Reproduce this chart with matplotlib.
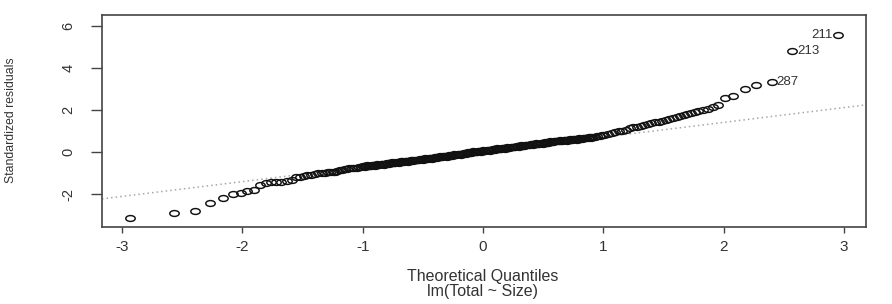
import numpy as np
import matplotlib
matplotlib.use("Agg")
import matplotlib.pyplot as plt
from matplotlib.path import Path
from matplotlib.transforms import Affine2D

# sorted standardized residuals vs theoretical quantiles
theo_q = [
    -2.93, -2.57, -2.39, -2.27, -2.16, -2.08, -2.01, -1.96, -1.90, -1.85,
    -1.80, -1.76, -1.72, -1.68, -1.63, -1.59, -1.55,
    -1.52, -1.49, -1.46, -1.43, -1.40, -1.37, -1.34, -1.31,
    -1.29, -1.27, -1.25, -1.23, -1.21, -1.19, -1.17, -1.15, -1.13, -1.11,
    -1.09, -1.07, -1.05, -1.03, -1.01, -0.99, -0.97, -0.95, -0.93, -0.91,
    -0.89, -0.87, -0.85, -0.83, -0.81, -0.79, -0.77, -0.75, -0.73, -0.71,
    -0.69, -0.67, -0.65, -0.63, -0.61, -0.59, -0.57, -0.55, -0.53, -0.51,
    -0.49, -0.47, -0.45, -0.43, -0.41, -0.39, -0.37, -0.35, -0.33, -0.31,
    -0.29, -0.27, -0.25, -0.23, -0.21, -0.19, -0.17, -0.15, -0.13, -0.11,
    -0.09, -0.07, -0.05, -0.03, -0.01, 0.01, 0.03, 0.05, 0.07, 0.09,
    0.11, 0.13, 0.15, 0.17, 0.19, 0.21, 0.23, 0.25, 0.27, 0.29,
    0.31, 0.33, 0.35, 0.37, 0.39, 0.41, 0.43, 0.45, 0.47, 0.49,
    0.51, 0.53, 0.55, 0.57, 0.59, 0.61, 0.63, 0.65, 0.67, 0.69,
    0.71, 0.73, 0.75, 0.77, 0.79, 0.81, 0.83, 0.85, 0.87, 0.89,
    0.91, 0.93, 0.95, 0.97, 0.99, 1.01,
    1.04, 1.07, 1.10, 1.13, 1.16, 1.19, 1.22, 1.25, 1.28, 1.31,
    1.34, 1.37, 1.40, 1.43, 1.46, 1.49, 1.52, 1.55, 1.58, 1.61,
    1.64, 1.67, 1.70, 1.73, 1.76, 1.79, 1.83, 1.87, 1.91, 1.95,
    2.01, 2.08, 2.18, 2.27, 2.40, 2.57, 2.95,
    # the crowded middle of the band
    -1.00, -0.98, -0.96, -0.94, -0.92, -0.90, -0.88, -0.86, -0.84, -0.82,
    -0.80, -0.78, -0.76, -0.74, -0.72, -0.70, -0.68, -0.66, -0.64, -0.62,
    -0.60, -0.58, -0.56, -0.54, -0.52, -0.50, -0.48, -0.46, -0.44, -0.42,
    -0.40, -0.38, -0.36, -0.34, -0.32, -0.30, -0.28, -0.26, -0.24, -0.22,
    -0.20, -0.18, -0.16, -0.14, -0.12, -0.10, -0.08, -0.06, -0.04, -0.02,
    0.00, 0.02, 0.04, 0.06, 0.08, 0.10, 0.12, 0.14, 0.16, 0.18,
    0.20, 0.22, 0.24, 0.26, 0.28, 0.30, 0.32, 0.34, 0.36, 0.38,
    0.40, 0.42, 0.44, 0.46, 0.48, 0.50, 0.52, 0.54, 0.56, 0.58,
    0.60, 0.62, 0.64, 0.66, 0.68, 0.70, 0.72, 0.74, 0.76, 0.78,
    0.80, 0.82, 0.84, 0.86, 0.88, 0.90,
]
std_resid = [
    -3.16, -2.89, -2.80, -2.44, -2.21, -2.00, -1.97, -1.85, -1.83, -1.57,
    -1.46, -1.41, -1.41, -1.41, -1.38, -1.33, -1.21,
    -1.17, -1.14, -1.11, -1.08, -1.05, -1.02, -1.00, -0.99,
    -0.97, -0.96, -0.95, -0.93, -0.90, -0.88, -0.85, -0.83, -0.80, -0.78,
    -0.77, -0.75, -0.74, -0.72, -0.71, -0.69, -0.67, -0.66, -0.65, -0.63,
    -0.62, -0.60, -0.59, -0.57, -0.56, -0.54, -0.53, -0.51, -0.50, -0.48,
    -0.46, -0.45, -0.44, -0.43, -0.42, -0.40, -0.39, -0.38, -0.36, -0.35,
    -0.33, -0.32, -0.30, -0.29, -0.27, -0.26, -0.24, -0.23, -0.21, -0.20,
    -0.18, -0.17, -0.15, -0.13, -0.11, -0.10, -0.08, -0.06, -0.04, -0.03,
    -0.01, 0.01, 0.02, 0.04, 0.05, 0.06, 0.08, 0.09, 0.11, 0.12,
    0.14, 0.15, 0.16, 0.18, 0.19, 0.21, 0.22, 0.24, 0.25, 0.27,
    0.28, 0.30, 0.31, 0.33, 0.34, 0.36, 0.37, 0.39, 0.40, 0.42,
    0.44, 0.45, 0.47, 0.49, 0.51, 0.52, 0.53, 0.54, 0.55, 0.56,
    0.58, 0.59, 0.60, 0.61, 0.63, 0.64, 0.66, 0.67, 0.68, 0.70,
    0.71, 0.73, 0.74, 0.77, 0.80, 0.83,
    0.87, 0.90, 0.94, 0.98, 1.02, 1.07, 1.13, 1.18, 1.21, 1.24,
    1.30, 1.34, 1.38, 1.41, 1.44, 1.48, 1.51, 1.56, 1.61, 1.65,
    1.71, 1.77, 1.82, 1.87, 1.91, 1.96, 2.00, 2.06, 2.14, 2.24,
    2.56, 2.68, 2.98, 3.19, 3.35, 4.82, 5.57,
    # the crowded middle of the band
    -0.67, -0.71, -0.64, -0.69, -0.61, -0.66, -0.58, -0.63, -0.55, -0.60,
    -0.52, -0.57, -0.49, -0.54, -0.46, -0.50, -0.43, -0.48, -0.41, -0.46,
    -0.38, -0.43, -0.36, -0.40, -0.33, -0.37, -0.30, -0.34, -0.27, -0.31,
    -0.24, -0.28, -0.21, -0.25, -0.18, -0.22, -0.15, -0.19, -0.11, -0.15,
    -0.08, -0.12, -0.04, -0.08, -0.01, -0.05, 0.03, -0.02, 0.06, 0.01,
    0.08, 0.04, 0.11, 0.07, 0.14, 0.10, 0.17, 0.13, 0.20, 0.16,
    0.23, 0.19, 0.26, 0.22, 0.29, 0.25, 0.32, 0.28, 0.35, 0.31,
    0.38, 0.34, 0.41, 0.37, 0.44, 0.40, 0.47, 0.43, 0.51, 0.47,
    0.54, 0.50, 0.56, 0.52, 0.58, 0.54, 0.61, 0.57, 0.63, 0.59,
    0.66, 0.62, 0.69, 0.65, 0.72, 0.68,
]

# labelled observations: (label, x, y, side)
outliers = [("211", 2.95, 5.57, "left"), ("213", 2.57, 4.82, "right"), ("287", 2.40, 3.35, "right")]

# reference line through the quartiles
line_intercept = 0.0
line_slope = 0.705

xticks = [-3, -2, -1, 0, 1, 2, 3]
yticks = [-2, 0, 2, 4, 6]

plt.rcParams['font.family'] = ['Liberation Sans', 'DejaVu Sans']

fig = plt.figure(figsize=(8.92, 3.04), dpi=100)
ax = fig.add_axes([0.1143, 0.2533, 0.8565, 0.6974])

# slightly flattened circle, the source image is stretched sideways
oval = Path.unit_circle().transformed(Affine2D().scale(1.0, 0.62))

ax.axline((0, line_intercept), slope=line_slope, color='#a8a8a8', linestyle=(0, (1, 2)), linewidth=1.1, zorder=1)
ax.plot(theo_q, std_resid, linestyle='none', marker=oval, markersize=6.8,
        markerfacecolor='none', markeredgecolor='#111111', markeredgewidth=1.05, zorder=2)

for lab, x, y, side in outliers:
    if side == "left":
        ax.annotate(lab, (x, y), xytext=(-3.5, 0), textcoords='offset points', ha='right', va='center',
                    fontsize=9.5, color='#333333')
    else:
        ax.annotate(lab, (x, y), xytext=(3.5, 0), textcoords='offset points', ha='left', va='center',
                    fontsize=9.5, color='#333333')

ax.set_xlim(-3.167, 3.184)
ax.set_ylim(-3.571, 6.524)
ax.set_xticks(xticks)
ax.set_yticks(yticks)
ax.set_xticklabels([str(t) for t in xticks])
ax.set_yticklabels([str(t) for t in yticks], rotation=90, va='center')

for sp in ax.spines.values():
    sp.set_color('#444444')
    sp.set_linewidth(1.2)

ax.tick_params(axis='x', length=4.5, width=1.0, color='#444444', pad=5, labelsize=11, labelcolor='#333333')
ax.tick_params(axis='y', length=8, width=1.0, color='#444444', pad=11, labelsize=10.5, labelcolor='#333333')

ax.set_ylabel('Standardized residuals', fontsize=8.8, color='#333333')
ax.yaxis.set_label_coords(-0.111, 0.505)
ax.text(0.498, -0.232, 'Theoretical Quantiles', transform=ax.transAxes, ha='center', va='center',
        fontsize=11.5, color='#333333')
ax.text(0.498, -0.305, 'lm(Total ~ Size)', transform=ax.transAxes, ha='center', va='center',
        fontsize=11.5, color='#333333')

fig.savefig('out.png', dpi=100, facecolor='white')
